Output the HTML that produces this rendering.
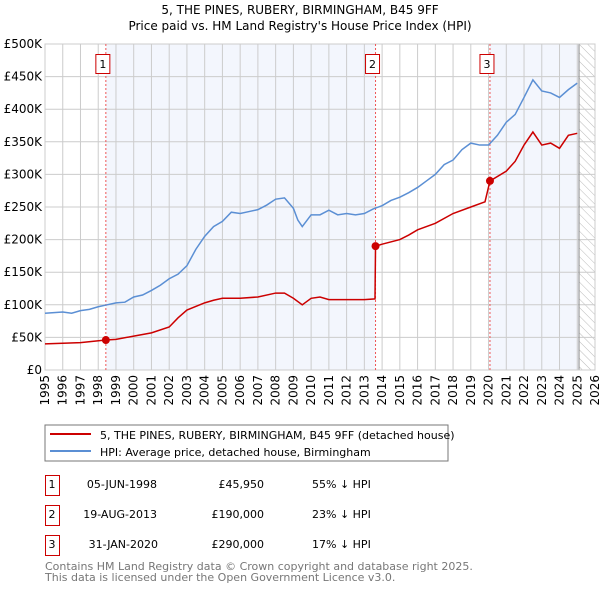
<!DOCTYPE html>
<html><head><meta charset="utf-8"><style>
body{margin:0;background:#fff;font-family:"DejaVu Sans","Liberation Sans",sans-serif;}
svg text{font-family:"DejaVu Sans","Liberation Sans",sans-serif;}
</style></head><body>
<svg id="c" width="600" height="590" xmlns="http://www.w3.org/2000/svg">
<defs><pattern id="hatch" width="6" height="6" patternUnits="userSpaceOnUse" patternTransform="rotate(-45)"><line x1="0" y1="0" x2="0" y2="6" stroke="#bbb" stroke-width="1"/></pattern></defs>
<text x="300" y="14" text-anchor="middle" font-size="12">5, THE PINES, RUBERY, BIRMINGHAM, B45 9FF</text>
<text x="300" y="30" text-anchor="middle" font-size="12">Price paid vs. HM Land Registry's House Price Index (HPI)</text>
<g id="plot"></g>
<rect x="45" y="425" width="403" height="36" fill="#fff" stroke="#777"/>
<line x1="50" y1="434" x2="91" y2="434" stroke="#cc0000" stroke-width="2"/>
<text x="100" y="439" font-size="11">5, THE PINES, RUBERY, BIRMINGHAM, B45 9FF (detached house)</text>
<line x1="50" y1="451" x2="91" y2="451" stroke="#5b8fd4" stroke-width="2"/>
<text x="100" y="456" font-size="11">HPI: Average price, detached house, Birmingham</text>
<g font-size="11">
<rect x="45.5" y="475.5" width="14" height="20" fill="none" stroke="#cc0000"/><text x="52" y="488" text-anchor="middle">1</text>
<text x="157" y="488" text-anchor="end">05-JUN-1998</text><text x="264" y="488" text-anchor="end">£45,950</text><text x="312" y="488">55% ↓ HPI</text>
<rect x="45.5" y="505.5" width="14" height="20" fill="none" stroke="#cc0000"/><text x="52" y="518" text-anchor="middle">2</text>
<text x="157" y="518" text-anchor="end">19-AUG-2013</text><text x="264" y="518" text-anchor="end">£190,000</text><text x="312" y="518">23% ↓ HPI</text>
<rect x="45.5" y="535.5" width="14" height="20" fill="none" stroke="#cc0000"/><text x="52" y="548" text-anchor="middle">3</text>
<text x="158" y="548" text-anchor="end">31-JAN-2020</text><text x="264" y="548" text-anchor="end">£290,000</text><text x="312" y="548">17% ↓ HPI</text>
</g>
<text x="45" y="570" font-size="11" fill="#777">Contains HM Land Registry data © Crown copyright and database right 2025.</text>
<text x="45" y="581" font-size="11" fill="#777">This data is licensed under the Open Government Licence v3.0.</text>
</svg>
<script>
const hpiYears=[1995,1996,1996.5,1997,1997.5,1998,1998.5,1999,1999.5,2000,2000.5,2001,2001.5,2002,2002.5,2003,2003.5,2004,2004.5,2005,2005.5,2006,2006.5,2007,2007.5,2008,2008.5,2009,2009.25,2009.5,2010,2010.5,2011,2011.5,2012,2012.5,2013,2013.5,2014,2014.5,2015,2015.5,2016,2016.5,2017,2017.5,2018,2018.5,2019,2019.5,2020,2020.5,2021,2021.5,2022,2022.5,2023,2023.5,2024,2024.5,2025];
const hpiValues=[87,89,87,91,93,97,100,103,104,112,115,122,130,140,147,160,185,205,220,228,242,240,243,246,253,262,264,248,230,220,238,238,245,238,240,238,240,247,252,260,265,272,280,290,300,315,322,338,348,345,345,360,380,392,418,445,428,425,418,430,440];
const priceYears=[1995,1997,1998.43,1999,2000,2001,2002,2002.5,2003,2004,2004.5,2005,2006,2007,2008,2008.5,2009,2009.5,2010,2010.5,2011,2012,2013,2013.6,2013.63,2014,2015,2015.5,2016,2017,2018,2019,2019.8,2020.08,2021,2021.5,2022,2022.5,2023,2023.5,2024,2024.5,2025];
const priceValues=[40,42,45.95,47,52,57,66,80,92,103,107,110,110,112,118,118,110,100,110,112,108,108,108,109,190,193,200,207,215,225,240,250,258,290,305,320,345,365,345,348,340,360,363];
const saleYears=[1998.43,2013.63,2020.08];
const saleValues=[45.95,190,290];
const saleLabels=["1","2","3"];
const yTicks=[0,50,100,150,200,250,300,350,400,450,500];
const yTickLabels=["£0","£50K","£100K","£150K","£200K","£250K","£300K","£350K","£400K","£450K","£500K"];
const xTicks=[1995,1996,1997,1998,1999,2000,2001,2002,2003,2004,2005,2006,2007,2008,2009,2010,2011,2012,2013,2014,2015,2016,2017,2018,2019,2020,2021,2022,2023,2024,2025,2026];
const NS="http://www.w3.org/2000/svg";
const X0=45,X1=595,Y0=370,Y1=44;
const x=v=>X0+(v-1995)/(2026-1995)*(X1-X0);
const y=v=>Y0-v/500*(Y0-Y1);
const g=document.getElementById('plot');
function mk(t,a){const e=document.createElementNS(NS,t);for(const k in a)e.setAttribute(k,a[k]);g.appendChild(e);return e;}
const dataEnd=2025.1;
let r;
r=mk('rect',{x:x(saleYears[0]),y:Y1,width:x(saleYears[1])-x(saleYears[0]),height:Y0-Y1,fill:'#f3f6fd'});


r=mk('rect',{x:x(saleYears[2]),y:Y1,width:x(dataEnd)-x(saleYears[2]),height:Y0-Y1,fill:'#f3f6fd'});


r=mk('rect',{x:x(dataEnd),y:Y1,width:X1-x(dataEnd),height:Y0-Y1,fill:'url(#hatch)'});


yTicks.forEach((v,i)=>{
 const l=mk('line',{x1:X0,x2:X1,y1:y(v),y2:y(v),stroke:'#ccc'});
 
 
 const t=mk('text',{x:X0-3,y:y(v)+4,'text-anchor':'end','font-size':12});
 t.textContent=yTickLabels[i];
 
 
});
xTicks.forEach(v=>{
 const l=mk('line',{x1:x(v),x2:x(v),y1:Y1,y2:Y0,stroke:'#ccc'});
 
 
 const tx=x(v)+4, ty=Y0+5;
 const t=mk('text',{x:tx,y:ty,'text-anchor':'end','font-size':12,transform:'rotate(-90 '+tx+' '+ty+')'});
 t.textContent=v;
 
 
});
r=mk('line',{x1:x(dataEnd),x2:x(dataEnd),y1:Y1,y2:Y0,stroke:'#888'});


r=mk('rect',{x:X0,y:Y1,width:X1-X0,height:Y0-Y1,fill:'none',stroke:'#ccc'});


saleYears.forEach((v,i)=>{
 const l=mk('line',{x1:x(v),x2:x(v),y1:Y1,y2:Y0,stroke:'#e55','stroke-dasharray':'2,2'});
 
 
 const b=mk('rect',{x:x(v)-7-3,y:54.5,width:14,height:19,fill:'#fff',stroke:'#cc0000'});
 
 
 const t=mk('text',{x:x(v)-3,y:68,'text-anchor':'middle','font-size':11});
 t.textContent=saleLabels[i];
 
 
});
const hp=mk('polyline',{points:hpiYears.map((v,i)=>x(v)+','+y(hpiValues[i])).join(' '),fill:'none',stroke:'#5b8fd4','stroke-width':1.5});


const pp=mk('polyline',{points:priceYears.map((v,i)=>x(v)+','+y(priceValues[i])).join(' '),fill:'none',stroke:'#cc0000','stroke-width':1.5});


saleYears.forEach((v,i)=>{
 const c=mk('circle',{cx:x(v),cy:y(saleValues[i]),r:4,fill:'#cc0000'});
 
 
});
</script>
</body></html>
